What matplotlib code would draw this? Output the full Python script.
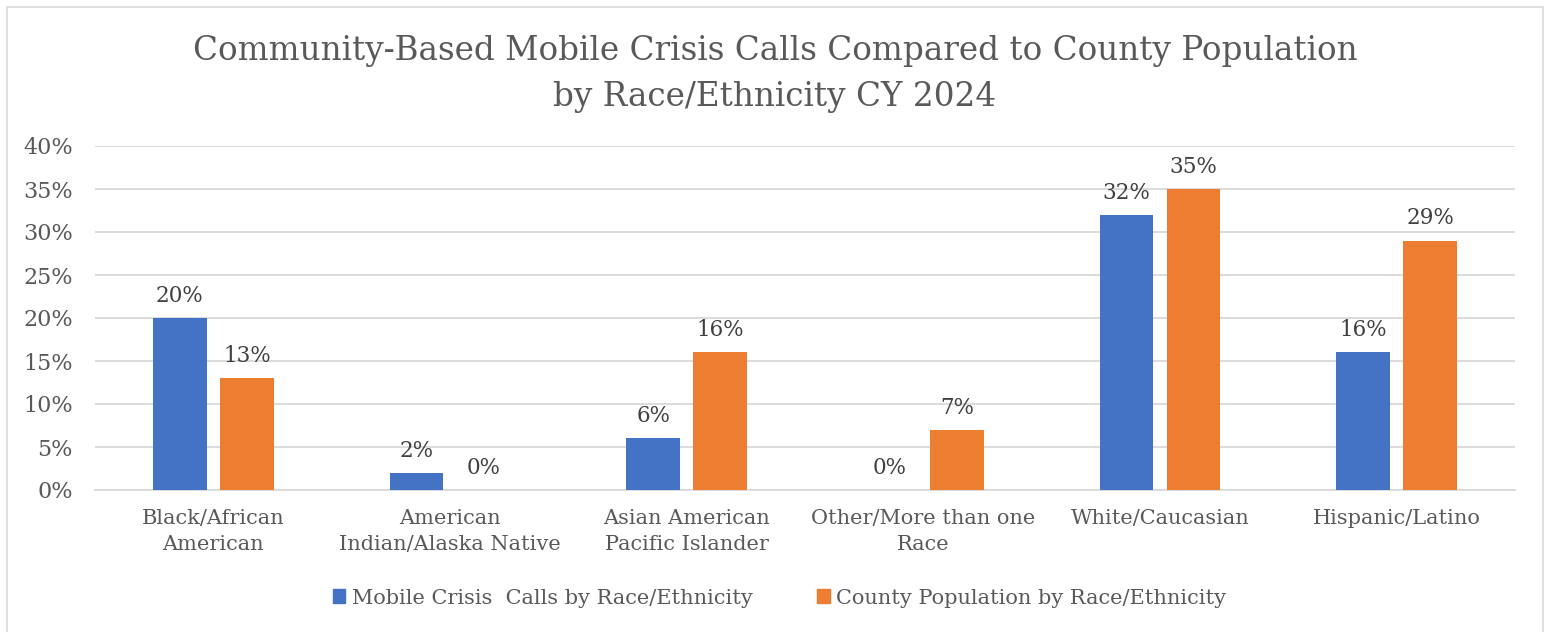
import matplotlib.pyplot as plt
import matplotlib.patches as patches
import numpy as np

categories = ["Black/African\nAmerican", "American\nIndian/Alaska Native",
              "Asian American\nPacific Islander", "Other/More than one\nRace",
              "White/Caucasian", "Hispanic/Latino"]
calls_pct = [20, 2, 6, 0, 32, 16]
population_pct = [13, 0, 16, 7, 35, 29]
series_names = ["Mobile Crisis  Calls by Race/Ethnicity",
                "County Population by Race/Ethnicity"]
title = "Community-Based Mobile Crisis Calls Compared to County Population\nby Race/Ethnicity CY 2024"

blue = "#4472C4"
orange = "#ED7D31"
grid_col = "#D9D9D9"
txt_col = "#595959"
lbl_col = "#404040"

plt.rcParams['font.family'] = ['DejaVu Serif']

fig = plt.figure(figsize=(15.49, 6.32), dpi=100)
# chart frame
fig.patches.append(patches.Rectangle((7 / 1549, -0.01), 1536 / 1549, 1 - 7 / 632 + 0.01,
                                     transform=fig.transFigure, fill=False,
                                     edgecolor=grid_col, linewidth=1.2))

# plot area: x 95..1515 px, y 146..490 px (top origin)
ax = fig.add_axes([95 / 1549, 1 - 490 / 632, 1420 / 1549, 344 / 632])

x = np.arange(len(categories))
w = 0.228
gap = 0.055
b1 = ax.bar(x - (w + gap) / 2, calls_pct, w, color=blue, zorder=3)
b2 = ax.bar(x + (w + gap) / 2, population_pct, w, color=orange, zorder=3)

for bars, vals in [(b1, calls_pct), (b2, population_pct)]:
    for rect, v in zip(bars, vals):
        ax.text(rect.get_x() + rect.get_width() / 2, v + 1.3, f"{v}%",
                ha="center", va="bottom", fontsize=15.5, color=lbl_col)

ax.set_ylim(0, 40)
ax.set_xlim(-0.5, len(categories) - 0.5)
ax.set_yticks(range(0, 41, 5))
ax.set_yticklabels([f"{t}%" for t in range(0, 41, 5)])
ax.yaxis.grid(True, color=grid_col, linewidth=1.3, zorder=0)
ax.set_xticks(x)
ax.set_xticklabels(categories, linespacing=1.45)
ax.tick_params(axis="both", length=0, labelsize=15, colors=txt_col)
ax.tick_params(axis="x", pad=14)
ax.tick_params(axis="y", labelsize=16, pad=16)
for s in ax.spines.values():
    s.set_visible(False)
ax.spines["bottom"].set_visible(True)
ax.spines["bottom"].set_color(grid_col)
ax.spines["bottom"].set_linewidth(1.3)

fig.text(775 / 1549, 1 - 74 / 632, title, ha="center", va="center",
         fontsize=23.5, color=txt_col, linespacing=1.58)

handles = [patches.Patch(color=blue), patches.Patch(color=orange)]
fig.legend(handles, series_names, loc="center", bbox_to_anchor=(779.5 / 1549, 1 - 598 / 632),
           ncol=2, frameon=False, fontsize=15, labelcolor=txt_col,
           handlelength=0.6, handleheight=0.65, handletextpad=0.3, columnspacing=3.1)

fig.savefig("out.png", dpi=100)
